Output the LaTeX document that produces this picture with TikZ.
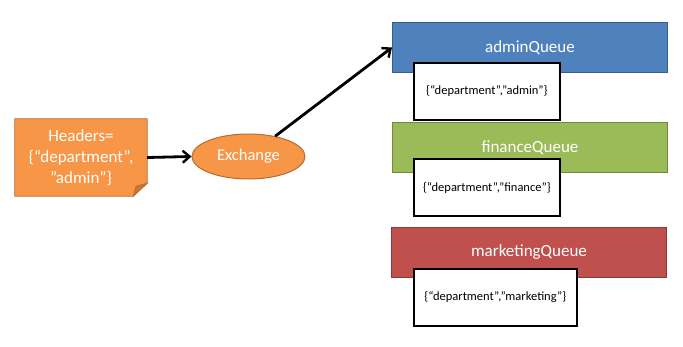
\documentclass[tikz,border=0pt]{standalone}
\usepackage{fontspec}
\setmainfont{Carlito}
\usetikzlibrary{arrows.meta,shapes.geometric,backgrounds}
\definecolor{qblue}{HTML}{4F81BD}\definecolor{qblueb}{HTML}{385D8A}
\definecolor{qgreen}{HTML}{9BBB59}\definecolor{qgreenb}{HTML}{71893F}
\definecolor{qred}{HTML}{C0504D}\definecolor{qredb}{HTML}{8C3836}
\definecolor{qorange}{HTML}{F79646}\definecolor{qorangeb}{HTML}{B66D31}
\definecolor{qfold}{HTML}{C77837}
\newcommand{\qfontbig}{\fontsize{17}{21}\selectfont}
\newcommand{\qfontmid}{\fontsize{16.5}{19}\selectfont}
\newcommand{\qfontsmall}{\fontsize{12.5}{14}\selectfont}
\tikzset{
  queue/.style={draw, line width=1pt, minimum width=275pt, minimum height=50pt, inner sep=0pt, text=white, font=\qfontbig, anchor=north west},
  keybox/.style={draw=black, line width=1.8pt, fill=white, inner sep=0pt, minimum height=57pt, font=\qfontsmall, anchor=north west},
  conn/.style={line width=2.8pt, -{Straight Barb[length=7pt,width=12pt,line width=2.4pt]}},
}
\begin{document}
\begin{tikzpicture}[x=1pt,y=-1pt]
\path[use as bounding box] (0,0) rectangle (683,347);
% headers note
\node[minimum width=132pt, minimum height=77pt, inner sep=0pt, align=center, text=white, font=\qfontbig] (h) at (81,157.5) {Headers=\\\{“department”,\\”admin”\}};
\begin{scope}[on background layer]
\filldraw[fill=qorange, draw=qorangeb, line width=0.8pt] (h.north west) -- (h.north east) -- ([yshift=13pt]h.south east) -- ([xshift=-14pt]h.south east) -- (h.south west) -- cycle;
\filldraw[fill=qfold, draw=qorangeb, line width=0.8pt] ([xshift=-14pt]h.south east) -- ([xshift=-11pt,yshift=10pt]h.south east) -- ([yshift=13pt]h.south east) -- cycle;
\end{scope}
% exchange
\node[ellipse, draw=qorangeb, line width=1pt, fill=qorange, minimum width=113pt, minimum height=45pt, inner sep=0pt, text=white, font=\qfontmid] (ex) at (248.5,156.5) {Exchange};
% queues
\node[queue, fill=qblue, draw=qblueb] (aq) at (392,22) {adminQueue};
\node[keybox, minimum width=146pt] (ak) at (413,62) {\{“department”,”admin”\}};
\node[queue, fill=qgreen, draw=qgreenb] (fq) at (392,122) {financeQueue};
\node[keybox, minimum width=146pt] (fk) at (413,158.5) {\{“department”,”finance”\}};
\node[queue, fill=qred, draw=qredb] (mq) at (391,227) {marketingQueue};
\node[keybox, minimum width=163pt] (mk) at (413,268) {\{“department”,”marketing”\}};
% connectors
\draw[conn] (h.east) -- (ex.west);
\draw[conn] (ex) -- (aq.west);
\end{tikzpicture}
\end{document}
